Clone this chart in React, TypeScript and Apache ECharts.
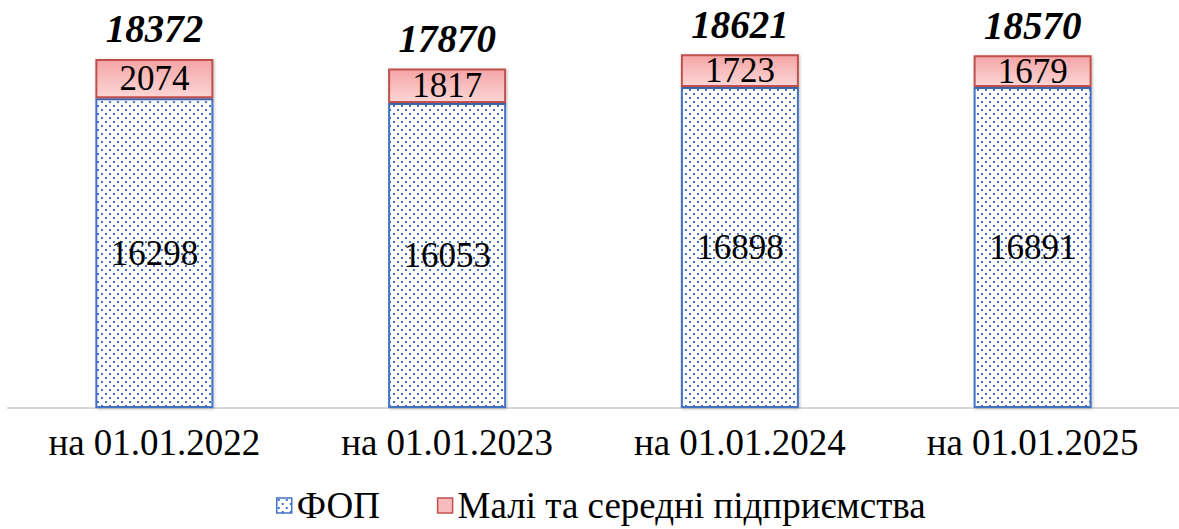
import React, { useEffect, useRef } from "react";
import * as echarts from "echarts";

const categories = ["на 01.01.2022", "на 01.01.2023", "на 01.01.2024", "на 01.01.2025"];
const fopValues = [16298, 16053, 16898, 16891];
const smeValues = [2074, 1817, 1723, 1679];
const seriesNames = ["ФОП", "Малі та середні підприємства"];

const FONT = "Liberation Serif";

function makeDotPattern(): HTMLCanvasElement {
  const c = document.createElement("canvas");
  c.width = 8;
  c.height = 8;
  const ctx = c.getContext("2d")!;
  ctx.fillStyle = "#ffffff";
  ctx.fillRect(0, 0, 8, 8);
  ctx.fillStyle = "#4472C4";
  ctx.fillRect(1, 1, 2, 2);
  ctx.fillRect(5, 5, 2, 2);
  return c;
}

export default function App() {
  const ref = useRef<HTMLDivElement>(null);
  useEffect(() => {
    if (!ref.current) return;
    const chart = echarts.init(ref.current, null, { renderer: "svg" });
    const totals = fopValues.map((v, i) => v + smeValues[i]);
    const pattern = { image: makeDotPattern(), repeat: "repeat" };
    const redGradient = new echarts.graphic.LinearGradient(0, 0, 0, 1, [
      { offset: 0, color: "#f5a5a5" },
      { offset: 1, color: "#fcd6d6" },
    ]);
    chart.setOption({
      animation: false,
      textStyle: { fontFamily: FONT },
      grid: { left: 8, width: 1178, top: 28, bottom: 121 },
      legend: {
        bottom: 0,
        left: 271,
        icon: "rect",
        itemWidth: 15,
        itemHeight: 15,
        itemGap: 57,
        textStyle: { fontFamily: FONT, fontSize: 37, color: "#000" },
        data: [
          { name: seriesNames[0], itemStyle: { color: pattern as any, borderColor: "#4472C4", borderWidth: 1.5 } },
          { name: seriesNames[1], itemStyle: { color: "#f8bcbc", borderColor: "#c0504d", borderWidth: 1.5 } },
        ],
      },
      xAxis: {
        type: "category",
        data: categories,
        axisLine: { show: true, lineStyle: { color: "#d9d9d9", width: 2 } },
        axisTick: { show: false },
        axisLabel: { fontFamily: FONT, fontSize: 37, color: "#000", margin: 16 },
      },
      yAxis: {
        type: "value",
        min: 0,
        max: 20000,
        show: false,
        splitLine: { show: false },
      },
      series: [
        {
          name: seriesNames[0],
          type: "bar",
          stack: "total",
          barWidth: 118,
          data: fopValues,
          itemStyle: {
            color: pattern as any,
            borderColor: "#4472C4",
            borderWidth: 2,
            shadowColor: "rgba(0,0,0,0.25)",
            shadowBlur: 3,
            shadowOffsetX: 1,
            shadowOffsetY: 1,
          },
          label: {
            show: true,
            position: "inside",
            fontFamily: FONT,
            fontSize: 35,
            color: "#000",
          },
        },
        {
          name: seriesNames[1],
          type: "bar",
          stack: "total",
          barWidth: 118,
          data: smeValues,
          itemStyle: {
            color: redGradient,
            borderColor: "#c0504d",
            borderWidth: 2,
            shadowColor: "rgba(0,0,0,0.25)",
            shadowBlur: 3,
            shadowOffsetX: 1,
            shadowOffsetY: 1,
          },
          label: {
            show: true,
            position: "inside",
            fontFamily: FONT,
            fontSize: 35,
            color: "#000",
          },
        },
        {
          name: "total",
          type: "line",
          data: totals,
          symbol: "circle",
          symbolSize: 1,
          showSymbol: true,
          itemStyle: { color: "rgba(0,0,0,0)" },
          lineStyle: { width: 0, color: "rgba(0,0,0,0)" },
          silent: true,
          label: {
            show: true,
            position: "top",
            distance: 10,
            fontFamily: FONT,
            fontSize: 39,
            fontWeight: "bold",
            fontStyle: "italic",
            color: "#000",
          },
        },
      ],
    });
    return () => chart.dispose();
  }, []);
  return (
    <div
      ref={ref}
      style={{ position: "absolute", left: 0, top: 0, width: 1179, height: 529, background: "#fff" }}
    />
  );
}
